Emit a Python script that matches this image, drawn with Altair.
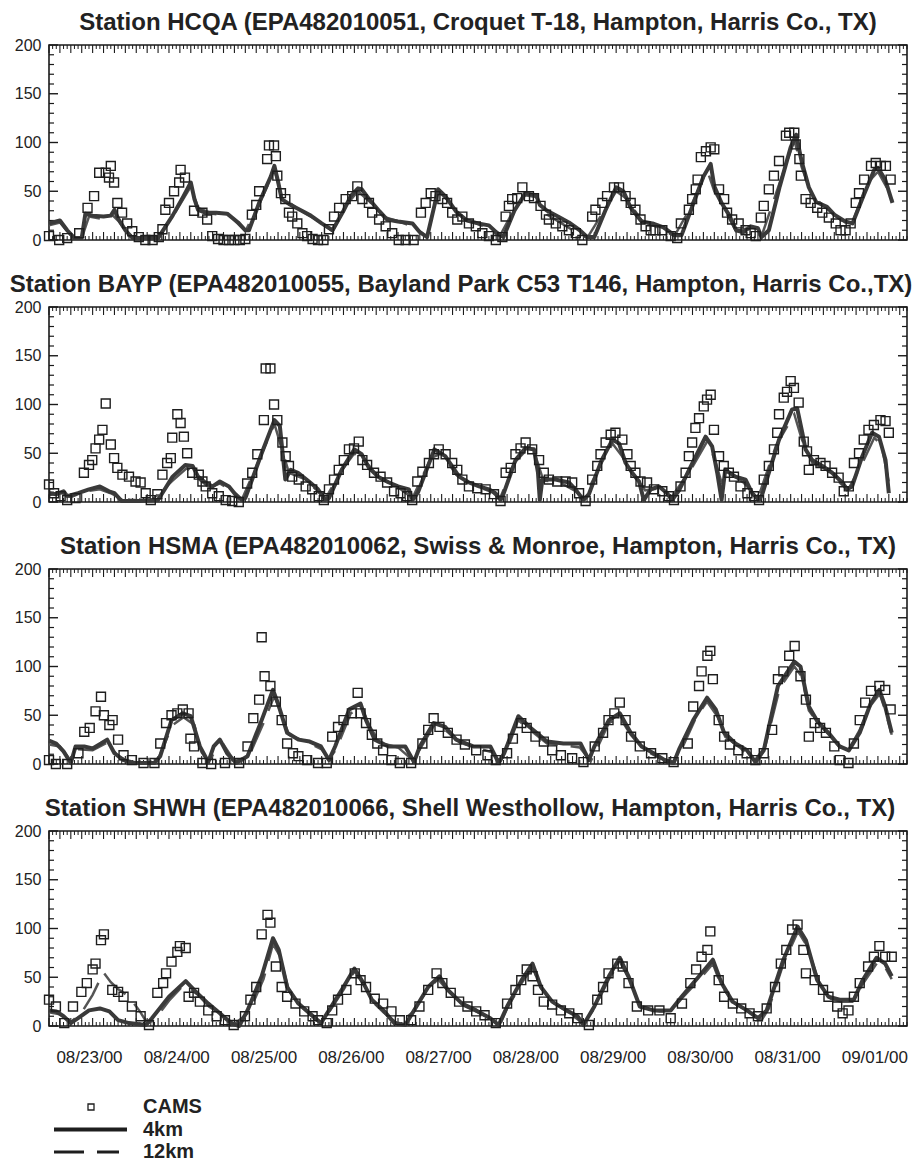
import altair as alt
import pandas as pd

FONT = "Liberation Sans"
TEXT = "#222222"
LINE = "#3a3a3a"

TITLES = [
    "Station HCQA (EPA482010051, Croquet T-18, Hampton, Harris Co., TX)",
    "Station BAYP (EPA482010055, Bayland Park C53 T146, Hampton, Harris Co.,TX)",
    "Station HSMA (EPA482010062, Swiss & Monroe, Hampton, Harris Co., TX)",
    "Station SHWH (EPA482010066, Shell Westhollow, Hampton, Harris Co., TX)",
]
TITLE_DX = [0, -17, 0, -8]
DATE_LABELS = ["08/23/00", "08/24/00", "08/25/00", "08/26/00", "08/27/00",
               "08/28/00", "08/29/00", "08/30/00", "08/31/00", "09/01/00"]
LABEL_HOURS = [11, 35, 59, 83, 107, 131, 155, 179, 203, 227]
Y_LABELS = [0, 50, 100, 150, 200]
LEGEND_LABELS = ["CAMS", "4km", "12km"]

# ---------------- HCQA ----------------
HCQA_CAMS = [(0,4),(2.8,0),(5,2),(8.3,7),(10.6,33),(12.4,45),(13.8,69),(15.6,69),(16.5,64),(17,76),(17.9,59),(18.8,38),(20.1,28),(21.5,17),(22.9,9),(24.7,3),(26.5,0),(28.5,0),(30.2,3),(31.2,11),(32,31),(33,38),(34.4,50),(35.8,59),(36.2,72),(37.4,64),(39.9,30),(42.2,28),(43.5,21),(44.9,4),(46.5,1),(48,0),(49.5,0),(51,0),(52.5,0),(54,1),(55.8,26),(57,36),(57.8,50),(60,83),(60.5,97),(61.9,97),(62.4,86),(62.8,66),(63.8,48),(65,42),(66,28),(66.9,24),(68.3,17),(69.7,7),(71,4),(72.5,1),(74,0),(75.5,0),(77,11),(78.4,24),(79.8,33),(81.6,42),(83.4,45),(84.8,55),(86.2,42),(88,38),(88.9,28),(90.8,21),(92.6,14),(94.4,7),(96.2,0),(98.1,0),(100.3,0),(102.3,28),(103.6,38),(105,48),(106.3,45),(108.2,42),(109.5,38),(110.9,28),(112.3,21),(113.7,24),(115.5,17),(117.4,14),(119.2,7),(121,4),(122.9,0),(124.7,3),(125.6,24),(126.5,35),(127.4,42),(128.8,43),(130.2,54),(132,45),(133.4,43),(135.2,35),(136.7,26),(137.5,21),(139.4,17),(141.2,14),(143,10),(144.9,7),(146.7,0),(149.4,24),(150.3,31),(152.2,38),(153.5,45),(155.4,54),(156.8,54),(158.6,45),(160,38),(161.3,31),(162.7,21),(164.1,14),(165.5,10),(166.8,10),(168.7,10),(171,4),(172.8,2),(173.8,17),(176,31),(176.9,42),(177.9,52),(178.4,62),(179.3,85),(180.7,91),(182,95),(183,93),(184.3,52),(185.7,42),(186.5,28),(187.9,21),(189.7,17),(191.6,10),(193,7),(194.4,4),(195.8,23),(196.6,35),(198,52),(199.4,66),(200.8,81),(202.7,107),(203.6,110),(205,110),(205.4,98),(206.4,83),(206.8,66),(208.1,42),(209.5,38),(211.3,33),(212.7,28),(214.5,23),(216.4,17),(217.7,10),(219.1,10),(220.5,17),(221.9,38),(222.8,48),(224.2,62),(226.1,76),(227.4,79),(228.8,76),(230.2,76),(231.5,62)]
HCQA_4KM = [(0,17),(3,20),(5,10),(7,2),(9,2),(10,27),(12,25),(15,24),(17,25),(18,31),(19,22),(21,10),(23,2),(30,2),(34,25),(37,45),(39,59),(40,42),(41,31),(43,28),(46,28),(49,27),(52,18),(54,10),(55,10),(58,40),(61,65),(62,76),(63,60),(64,42),(66,37),(69,31),(72,25),(75,17),(78,10),(81,30),(83,45),(85,53),(86,52),(88,42),(91,29),(93,21),(96,19),(100,17),(102,8),(104,3),(106,35),(107,52),(109,45),(112,29),(115,20),(118,17),(121,15),(123,8),(125,3),(128,30),(131,48),(134,46),(135,36),(137,30),(140,24),(143,18),(146,10),(148,3),(150,3),(153,30),(156,54),(158,50),(160,33),(163,19),(166,17),(169,13),(172,5),(174,5),(177,35),(180,65),(182,78),(183,55),(185,38),(187,26),(189,10),(191,8),(193,14),(195,12),(196,3),(198,10),(201,55),(204,95),(205.5,108),(207,81),(209,54),(211,39),(214,34),(216,26),(219,19),(221,17),(224,45),(227,72),(228,74),(230,62),(232,38)]
HCQA_12KM = [(0,15),(3,18),(6,5),(9,2),(11,24),(14,22),(17,27),(19,20),(22,5),(30,3),(35,30),(39,55),(41,33),(45,27),(50,24),(54,9),(58,38),(62,72),(64,45),(68,33),(73,22),(78,9),(82,37),(85,50),(88,40),(92,24),(97,18),(101,12),(104,3),(107,50),(110,40),(114,22),(119,15),(124,4),(127,25),(131,46),(134,44),(137,26),(141,17),(145,8),(148,2),(152,26),(156,50),(159,42),(163,20),(168,12),(172,4),(176,30),(181,72),(183,50),(186,30),(189,9),(192,12),(196,4),(200,48),(205,102),(207,75),(210,45),(214,32),(218,20),(221,18),(225,58),(228,70),(231,50),(232,40)]

# ---------------- BAYP ----------------
BAYP_CAMS = [(0,18),(1.4,9),(3.2,6),(5,2),(7.3,4),(9.6,30),(11,38),(11.9,43),(12.8,55),(13.8,64),(14.7,74),(15.6,101),(17,59),(17.9,45),(18.8,35),(20.2,28),(22,26),(23.8,21),(25.2,20),(26.6,9),(28,2),(29.8,8),(31.2,28),(32.5,40),(33.5,45),(33.9,66),(35.3,90),(36.2,81),(37.1,67),(38,50),(39.4,30),(41.2,28),(42.2,21),(43.1,16),(44.9,9),(46.7,6),(48.6,2),(50.4,1),(52.2,0),(54.5,19),(55.9,30),(57.3,49),(59.1,84),(59.6,137),(60.9,137),(61.9,100),(62.8,84),(64.2,61),(65.1,47),(66,37),(66.9,26),(68.7,23),(70.6,16),(72.4,13),(74.2,6),(75.6,2),(77,13),(78.4,23),(79.7,33),(81.1,43),(82.5,54),(83.9,55),(85.2,62),(86.2,43),(87.5,38),(89.4,30),(91.2,26),(93,20),(94.9,11),(96.7,9),(98.5,6),(99.9,2),(101.3,21),(102.7,31),(104.5,40),(105.9,49),(107.2,54),(109.1,49),(110.9,40),(112.3,33),(113.7,23),(115.5,16),(117.8,14),(120.1,13),(122.4,8),(124.2,1),(125.6,30),(127,35),(128.3,49),(129.7,55),(131.1,61),(132.9,54),(134.8,43),(136.1,30),(137.5,23),(139.8,21),(142.1,21),(143.9,20),(145.8,9),(147.6,1),(149.4,23),(150.8,37),(151.7,49),(153.1,61),(154.5,69),(155.8,71),(157.7,64),(159.1,49),(160,37),(161.3,30),(162.7,21),(164.5,20),(166.4,13),(168.7,11),(170.5,6),(171.9,2),(173.7,16),(175.1,30),(176,47),(176.9,61),(177.8,76),(178.8,86),(180.1,98),(181,105),(182,110),(182.9,74),(184.3,47),(185.6,37),(187,30),(188.4,26),(190.2,16),(192.1,9),(193.9,6),(195.3,2),(196.6,23),(198,37),(199.4,54),(200.3,71),(200.8,90),(202.1,107),(203,113),(204,124),(204.9,117),(206.2,102),(207.6,62),(208.5,52),(209,33),(210.4,43),(212.2,40),(213.6,37),(215.4,30),(217.2,25),(218.6,11),(220,16),(221.4,40),(222.8,50),(224.1,64),(225.4,74),(226.9,79),(228.7,84),(230.1,83),(231,71)]
BAYP_4KM = [(0,9),(2,8),(4,11),(5,6),(8,9),(11,13),(14,16),(16.5,11),(18,9),(20,1),(25,1),(29,2),(30,2),(34,26),(37.5,38),(39.5,37),(41,26),(43,20),(45,16),(47,21),(49.5,16),(51,9),(53,2),(54,4),(58.5,50),(62,84),(63.5,78),(65,23),(66.5,33),(68.5,30),(71.5,21),(74,13),(76,2),(77,4),(80.5,33),(84,54),(86,49),(88,35),(90.5,26),(93.5,20),(96,16),(99,13),(100,2),(101.5,10),(106,54),(109,47),(112.8,26),(115.5,20),(118.3,16),(121,13),(122.8,9),(124.2,2),(125,8),(128.3,43),(131,55),(133.4,54),(134.5,30),(135,2),(135.7,23),(139.3,23),(143,20),(144.8,13),(147,2),(148.5,8),(152,43),(155,64),(156.8,60),(158.6,40),(160.4,30),(162.3,21),(163.6,2),(165.5,13),(167.8,16),(170,9),(171.4,2),(173.3,12),(177,40),(180.6,67),(182.4,57),(183.8,30),(185,2),(186,33),(188.8,26),(191.6,23),(193.4,9),(195.3,2),(196.2,8),(200.8,64),(204.4,95),(205.8,96),(207.2,71),(208.1,54),(209.9,43),(212.7,37),(215.4,30),(218.2,20),(219.5,13),(220.9,16),(223.7,47),(226.4,71),(228.3,67),(230.1,43),(231,9)]
BAYP_12KM = [(0,7),(3,10),(6,5),(10,11),(14,13),(17,9),(20,3),(28,1),(34,22),(38,35),(41,24),(44,15),(47,19),(50,12),(53,2),(58,45),(62,80),(64,55),(66,30),(70,24),(74,11),(76,3),(80,30),(84,50),(87,42),(91,24),(96,15),(100,4),(105,45),(108,50),(112,28),(117,17),(122,10),(124,3),(128,40),(131,52),(134,45),(136,22),(140,21),(145,11),(147,3),(152,40),(155,60),(158,45),(161,27),(164,12),(168,14),(171,4),(177,36),(181,62),(183,45),(185,20),(187,30),(191,20),(195,4),(200,58),(205,90),(207,65),(210,40),(214,33),(218,18),(220,14),(224,42),(227,66),(229,58),(231,20)]

# ---------------- HSMA ----------------
HSMA_CAMS = [(0,4),(1.9,0),(5,0),(8.1,11),(9.7,33),(11.2,37),(12.8,54),(14.3,69),(15.1,50),(16.6,40),(17.5,45),(19,25),(20.5,9),(22.8,4),(26,1),(29,1),(30.6,21),(32.2,42),(33.7,50),(35.3,52),(36.8,56),(38.4,52),(38.9,26),(39.9,18),(42.2,1),(44.6,0),(48.4,1),(52.3,1),(54.6,18),(56.2,47),(57.8,66),(58.5,130),(59.3,90),(60.9,80),(62.4,64),(64,45),(65.5,21),(67.1,11),(68.6,8),(71,4),(74,1),(76.4,1),(77.9,28),(79.5,38),(81,45),(83.3,52),(84.9,73),(85.7,52),(87.2,42),(88.8,30),(90.3,21),(91.9,14),(94.2,4),(96.5,1),(99.6,1),(102.7,21),(104.3,35),(105.8,47),(107.4,38),(109.7,32),(112.1,25),(114.4,20),(117.5,14),(120.6,9),(122.9,4),(126,11),(127.6,26),(129.9,42),(131.4,37),(133.8,28),(136.1,23),(138.4,14),(140.8,9),(143.9,6),(147,2),(150.1,18),(152.4,32),(153.9,45),(155.5,52),(157,63),(158.6,45),(160.1,28),(162.5,18),(165.6,11),(168.7,6),(171.8,2),(175.7,21),(177.2,59),(178.8,80),(179.5,95),(181.1,111),(181.9,116),(182.6,87),(184.2,45),(185.7,28),(187.3,20),(189.6,14),(191.9,11),(194.3,4),(196.6,11),(198.9,35),(200.5,87),(202,95),(203.6,111),(205.1,121),(206.7,90),(208.2,66),(209,28),(210.6,42),(212.1,37),(213.7,32),(216,18),(217.5,4),(219.9,1),(221.4,21),(223,45),(224.5,63),(226.1,75),(228.4,80),(230,76),(231.5,56)]
HSMA_4KM = [(0,24),(2,21),(4,13),(6,1),(7.3,18),(9.7,18),(12,16),(14.3,21),(16,25),(18,11),(20.5,4),(23.6,1),(29,1),(30.6,8),(33.7,45),(36.8,52),(39,49),(41.5,18),(43.8,2),(45.3,18),(47,25),(49,11),(51.5,1),(54.6,8),(58.5,45),(61.6,76),(63,62),(65.5,32),(68.6,25),(71.7,23),(74.8,18),(77,4),(78.7,18),(82.6,56),(85.7,62),(87.2,45),(89.6,25),(93.4,18),(98,18),(100.4,2),(102,18),(105.8,42),(109,38),(112,25),(116.7,18),(121.4,18),(123.7,1),(125.2,11),(129.1,49),(132.2,38),(137,23),(141.5,21),(146.2,21),(148.5,4),(150,18),(154,45),(157,52),(160,32),(163,18),(166.3,11),(169.4,4),(171.8,1),(173.3,15),(177.2,45),(181,68),(183.4,56),(185.7,32),(188.8,21),(192,14),(194.3,2),(196.6,14),(200.5,80),(205,105),(206.7,100),(209,59),(211.3,44),(214.4,32),(217.5,18),(220,14),(223,32),(226,62),(228.4,76),(230,59),(231.8,32)]
HSMA_12KM = [(0,20),(3,18),(6,3),(8,15),(12,14),(16,22),(19,8),(23,1),(30,5),(34,40),(37,48),(40,40),(42,12),(44,3),(46,15),(48,20),(51,3),(55,8),(59,42),(62,70),(64,50),(66,30),(70,24),(75,15),(77,5),(79,15),(83,52),(86,58),(88,40),(91,22),(96,17),(100,4),(102,15),(106,40),(109,35),(113,22),(118,16),(122,12),(124,2),(126,14),(129,45),(132,36),(137,21),(142,19),(146,17),(149,3),(151,18),(154,42),(157,48),(160,30),(164,14),(168,6),(172,2),(174,15),(178,48),(181,64),(184,48),(186,28),(190,17),(194,3),(197,18),(201,78),(205,100),(207,90),(209,55),(212,40),(215,28),(218,15),(220,15),(223,35),(226,60),(228.5,72),(230,55),(231.8,30)]

# ---------------- SHWH ----------------
SHWH_CAMS = [(0,27),(1.9,20),(4.2,3),(6.6,20),(8.9,35),(10.4,44),(12,58),(12.8,64),(14.3,88),(15.1,94),(17.4,37),(19,35),(20.5,30),(22.8,20),(25.2,10),(27.5,1),(29.8,34),(31.4,44),(32.2,54),(33.7,66),(35.3,76),(36,82),(37.6,80),(38.4,30),(39.9,34),(41.5,25),(43.8,16),(46.1,10),(48.4,6),(50.8,1),(53.9,10),(55.4,27),(57,40),(58.5,94),(60.1,114),(60.9,106),(62.4,61),(64,40),(65.5,30),(67.8,23),(70.2,15),(72.5,10),(74,6),(76.4,3),(77.9,16),(79.5,27),(81.8,37),(84.1,54),(85.7,47),(87.2,40),(89.6,28),(91.9,23),(94.2,15),(96.5,6),(99.6,6),(101.9,20),(104.3,37),(106.6,54),(108.2,44),(110.5,34),(112.8,25),(115.1,20),(117.5,15),(119.8,11),(122.9,3),(126,23),(128.3,37),(129.9,47),(131.4,58),(133,51),(134.5,37),(136.1,25),(138.4,22),(140.8,16),(143.1,13),(145.4,8),(148.5,1),(150.8,27),(152.4,40),(153.9,54),(156.3,64),(157.8,61),(159.4,44),(161.7,20),(164.8,16),(167.9,16),(171,8),(174.1,23),(176.4,44),(178,58),(179.5,71),(181.1,78),(181.9,97),(184.2,47),(185.7,30),(188.1,23),(190.4,18),(192.7,13),(195,10),(197.4,18),(199.7,40),(201.3,64),(202.8,78),(204.4,99),(205.9,104),(207.5,78),(208.2,54),(210.6,47),(212.9,37),(214.4,30),(216.8,20),(218.3,13),(219.9,16),(221.4,30),(223,44),(225.3,61),(226.9,71),(228.4,82),(230,71),(231.8,71)]
SHWH_4KM = [(0,16),(2,15),(4,10),(6,3),(8,8),(11,16),(14,18),(16.6,15),(19,6),(22,3),(26.7,1),(28.3,8),(33,30),(37.6,46),(40.7,34),(43.8,23),(47,13),(50,3),(52.3,0),(54.6,16),(58.5,51),(61.6,90),(63.2,78),(65.5,40),(68.6,23),(71.7,13),(74.8,3),(77,16),(81,40),(84,59),(86.5,44),(88.8,27),(92,16),(95,3),(98,1),(100.4,16),(104.3,40),(107.4,51),(109.7,37),(113.6,23),(117.5,16),(121.4,8),(123.7,1),(126,20),(130,47),(133,64),(135.3,40),(138.4,25),(142.3,16),(145.4,10),(147,1),(150,20),(154,51),(157,70),(159.4,51),(162.5,20),(166.3,16),(171,16),(174,30),(178.8,51),(182.6,68),(185,44),(188,25),(192,16),(195,8),(197.4,16),(202,68),(205.9,102),(208.2,88),(211.3,47),(214.4,30),(217.5,27),(221.4,27),(223.8,47),(227.6,70),(230,64),(231.8,51)]
SHWH_12KM = [(0,14),(3,12),(6,4),(9,14),(12,32),(15,55),(17,45),(19,38),(22,30),(25,15),(27,3),(29,6),(33,26),(37,42),(41,32),(44,20),(48,10),(51,2),(55,14),(59,48),(61.6,84),(63.5,72),(66,36),(69,21),(72,11),(75,2),(77,14),(81,37),(84,56),(87,40),(89,25),(92,14),(96,2),(100,14),(104,37),(107,48),(110,35),(114,21),(118,14),(122,6),(124,1),(126,18),(130,44),(133,60),(135.5,38),(139,23),(143,14),(147,2),(150,18),(154,48),(157,66),(160,45),(163,19),(168,15),(171,15),(174,28),(179,48),(182.6,64),(185,40),(189,22),(193,14),(196,6),(198,18),(202,64),(206,97),(208.5,82),(212,43),(215,28),(218,25),(221,25),(224,44),(228,66),(230,60),(231.8,48)]

CAMS = [HCQA_CAMS, BAYP_CAMS, HSMA_CAMS, SHWH_CAMS]
KM4 = [HCQA_4KM, BAYP_4KM, HSMA_4KM, SHWH_4KM]
KM12 = [HCQA_12KM, BAYP_12KM, HSMA_12KM, SHWH_12KM]

# axis furniture (inward ticks)
TICK_HOURS = list(range(0, 237))
TICK_VALUES = list(range(0, 201, 10))

PW, PH = 858, 195
X_MIN_TICK, X_MAJ_TICK = 4, 8
Y_MIN_TICK, Y_MAJ_TICK = 5, 9
TICK_COLOR = "#1a1a1a"

label_expr = ("[" + ",".join("'%s'" % d for d in DATE_LABELS) + "][indexof(["
              + ",".join(str(h) for h in LABEL_HOURS) + "], datum.value)]")

xscale = alt.Scale(domain=[0, 236], nice=False, zero=False)
yscale = alt.Scale(domain=[0, 200], nice=False, zero=True)

xt = pd.DataFrame({"hour": TICK_HOURS})
xt["major"] = xt["hour"] % 3 == 0
yt = pd.DataFrame({"value": TICK_VALUES})
yt["major"] = yt["value"] % 50 == 0


def frame(pairs):
    return pd.DataFrame(pairs, columns=["hour", "value"])


def panel(i, bottom):
    if bottom:
        xaxis = alt.Axis(values=LABEL_HOURS, labelExpr=label_expr, ticks=False, domain=False,
                         grid=False, labelPadding=23, labelFontSize=17, labelFont=FONT,
                         labelColor=TEXT, title=None, labelFlush=False, labelOverlap=False)
    else:
        xaxis = None
    x = alt.X("hour:Q", scale=xscale, axis=xaxis)
    y = alt.Y("value:Q", scale=yscale,
              axis=alt.Axis(values=Y_LABELS, ticks=False, domain=False, grid=False,
                            labelPadding=8, labelFontSize=16, labelFont=FONT,
                            labelColor=TEXT, title=None))
    layers = []
    xminor = alt.Chart(xt).transform_filter("!datum.major")
    xmajor = alt.Chart(xt).transform_filter("datum.major")
    layers.append(xminor.mark_rule(color=TICK_COLOR, strokeWidth=1).encode(
        x=x, y=alt.value(PH), y2=alt.value(PH - X_MIN_TICK)))
    layers.append(xmajor.mark_rule(color=TICK_COLOR, strokeWidth=1.1).encode(
        x=x, y=alt.value(PH), y2=alt.value(PH - X_MAJ_TICK)))
    layers.append(xminor.mark_rule(color=TICK_COLOR, strokeWidth=1).encode(
        x=x, y=alt.value(0), y2=alt.value(X_MIN_TICK)))
    layers.append(xmajor.mark_rule(color=TICK_COLOR, strokeWidth=1.1).encode(
        x=x, y=alt.value(0), y2=alt.value(X_MAJ_TICK)))
    yminor = alt.Chart(yt).transform_filter("!datum.major")
    ymajor = alt.Chart(yt).transform_filter("datum.major")
    layers.append(yminor.mark_rule(color=TICK_COLOR, strokeWidth=1.2).encode(
        y=y, x=alt.value(0), x2=alt.value(Y_MIN_TICK)))
    layers.append(ymajor.mark_rule(color=TICK_COLOR, strokeWidth=1.4).encode(
        y=y, x=alt.value(0), x2=alt.value(Y_MAJ_TICK)))
    layers.append(yminor.mark_rule(color=TICK_COLOR, strokeWidth=1.2).encode(
        y=y, x=alt.value(PW), x2=alt.value(PW - Y_MIN_TICK)))
    layers.append(ymajor.mark_rule(color=TICK_COLOR, strokeWidth=1.4).encode(
        y=y, x=alt.value(PW), x2=alt.value(PW - Y_MAJ_TICK)))
    layers.append(alt.Chart(frame(KM12[i])).mark_line(
        color="#555555", strokeWidth=2.5, strokeDash=[30, 13]).encode(x=x, y=y))
    layers.append(alt.Chart(frame(KM4[i])).mark_line(
        color=LINE, strokeWidth=4, strokeJoin="round").encode(x=x, y=y))
    layers.append(alt.Chart(frame(CAMS[i])).mark_point(
        shape="square", filled=False, size=80, strokeWidth=1.4, color="#1e1e1e",
        opacity=1).encode(x=x, y=y))
    return alt.layer(*layers).properties(
        width=PW, height=PH,
        title=alt.TitleParams(TITLES[i], fontSize=24, fontWeight="bold", font=FONT,
                              color=TEXT, offset=2, dx=TITLE_DX[i], anchor="middle"),
        view=alt.ViewBackground(stroke="#1a1a1a", strokeWidth=1.6),
    )


panels = [panel(i, i == 3) for i in range(4)]

leg = pd.DataFrame({"label": LEGEND_LABELS, "row": [0, 1, 2]})
ly = alt.Y("row:O", axis=None,
           scale=alt.Scale(type="point", domain=[0, 1, 2], range=[14, 59], padding=0))
lbase = alt.Chart(leg)
legend = alt.layer(
    lbase.mark_text(align="left", baseline="middle", fontSize=20, fontWeight="bold",
                    font=FONT, color=TEXT).encode(x=alt.value(94), y=ly, text="label:N"),
    lbase.transform_filter("datum.row == 0").mark_point(
        shape="square", filled=False, size=36, strokeWidth=1.3, color="#1e1e1e",
        opacity=1).encode(x=alt.value(42), y=ly),
    lbase.transform_filter("datum.row == 1").mark_rule(
        color="#1e1e1e", strokeWidth=4).encode(x=alt.value(5), x2=alt.value(78), y=ly),
    lbase.transform_filter("datum.row == 2").mark_rule(
        color="#1e1e1e", strokeWidth=3, strokeDash=[30, 13]).encode(
        x=alt.value(5), x2=alt.value(70), y=ly),
).properties(width=PW, height=60,
             view=alt.ViewBackground(stroke="transparent"))

chart = alt.vconcat(*panels, legend, spacing=67, bounds="flush").properties(
    padding={"left": 0, "top": 2, "right": 2, "bottom": 0},
    background="white",
).configure_view(stroke="transparent")

chart.save("out.html", embed_options={"renderer": "svg", "actions": False})
